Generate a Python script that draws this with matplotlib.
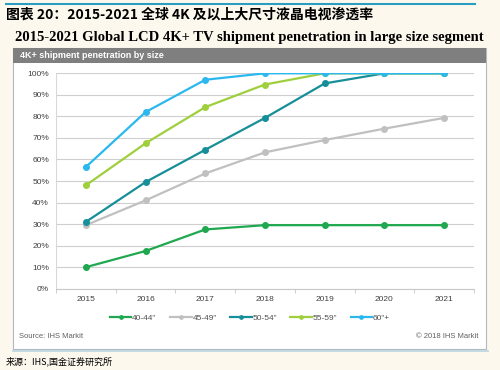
import numpy as np
import matplotlib
matplotlib.use('Agg')
import matplotlib.pyplot as plt
from matplotlib.patches import Rectangle

plt.rcParams['font.family'] = ['Liberation Sans', 'Noto Sans CJK SC', 'DejaVu Sans']

# data
years = ['2015', '2016', '2017', '2018', '2019', '2020', '2021']
s40_44 = [10, 17.5, 27.5, 29.5, 29.5, 29.5, 29.5]
s45_49 = [29.5, 41, 53.5, 63.3, 69, 74.3, 79.3]
s50_54 = [31, 49.5, 64.5, 79.3, 95.3, 100, 100]
s55_59 = [48, 67.5, 84.3, 94.8, 100, 100, 100]
s60 = [56.5, 82, 97, 100, 100, 100, 100]
labels = ['40-44"', '45-49"', '50-54"', '55-59"', '60"+']
colors = ['#1fa84f', '#c0c0c0', '#178f98', '#9fcf3c', '#2ab8ee']
yticks = [0, 10, 20, 30, 40, 50, 60, 70, 80, 90, 100]

W, H = 500, 370
fig = plt.figure(figsize=(5, 3.7), dpi=100, facecolor='#fdf8ee')

def px(x, y):
    return x / W, 1 - y / H

# top rule
fig.add_artist(plt.Line2D([0.012, 0.95], [1 - 4 / H, 1 - 4 / H], color='#2a9ec0', lw=1.5))

fig.text(*px(6, 15), u'图表 20：2015-2021 全球 4K 及以上大尺寸液晶电视渗透率', fontsize=10,
         fontweight='bold', style='italic', va='center', ha='left',
         family=['Noto Sans CJK SC', 'DejaVu Sans'])
fig.text(*px(249, 38), '2015-2021 Global LCD 4K+ TV shipment penetration in large size segment',
         fontsize=10.5, fontweight='bold', family='Liberation Serif', va='center', ha='center')

# white box with header band (behind the axes)
fig.add_artist(Rectangle(px(13, 349), 473 / W, 301 / H, transform=fig.transFigure,
                         facecolor='white', edgecolor='#b0b8c0', lw=0.8, zorder=-10))
fig.add_artist(plt.Line2D([13 / W, 488 / W], [1 - 351 / H, 1 - 351 / H], color='#b8d4e0',
                          lw=1.2, zorder=-10))
fig.add_artist(Rectangle(px(13, 63), 473 / W, 15 / H, transform=fig.transFigure,
                         facecolor='#7f7f7f', edgecolor='none', zorder=-9))
fig.text(*px(20, 55.5), '4K+ shipment penetration by size', fontsize=6.5, color='white',
         fontweight='bold', va='center', ha='left')

ax = fig.add_axes([56 / W, 1 - 288.7 / H, (474 - 56) / W, (288.7 - 73.3) / H])
ax.patch.set_alpha(0)
x = np.arange(len(years))
for s, lab, c in zip([s40_44, s45_49, s50_54, s55_59, s60], labels, colors):
    ax.plot(x, s, color=c, lw=1.6, marker='o', ms=4, label=lab)

ax.set_xlim(-0.5, len(years) - 0.5)
ax.set_ylim(0, 100)
ax.set_yticks(yticks)
ax.set_yticklabels([f'{v}%' for v in yticks])
ax.set_xticks(x)
ax.set_xticklabels(years)
ax.set_xticks(np.arange(-0.5, len(years), 1), minor=True)
ax.tick_params(axis='x', which='major', length=0, pad=5, labelsize=6, labelcolor='#404040')
ax.tick_params(axis='x', which='minor', length=3, color='#c8c8c8')
ax.tick_params(axis='y', length=0, pad=5, labelsize=6, labelcolor='#404040')
ax.grid(axis='y', color='#cfcfcf', lw=0.8)
ax.set_axisbelow(True)
for sp in ['top', 'right', 'left']:
    ax.spines[sp].set_visible(False)
ax.spines['bottom'].set_color('#c8c8c8')
ax.axvline(-0.5, color='#d8d8d8', lw=0.8)

fig.legend(loc='center', bbox_to_anchor=px(250, 318), ncol=5, frameon=False, fontsize=6,
           handlelength=2.6, columnspacing=1.6, handletextpad=0.1, labelcolor='#505050',
           markerscale=0.6)

fig.text(*px(19, 337), 'Source: IHS Markit', fontsize=5.5, color='#606060', va='center')
fig.text(*px(479, 337), u'© 2018 IHS Markit', fontsize=5.5, color='#606060', va='center', ha='right')
fig.text(*px(6, 361), u'来源：IHS,国金证券研究所', fontsize=6.5, va='center',
         family=['Noto Sans CJK SC', 'DejaVu Sans'])

fig.savefig('out.png', dpi=100, facecolor=fig.get_facecolor())
